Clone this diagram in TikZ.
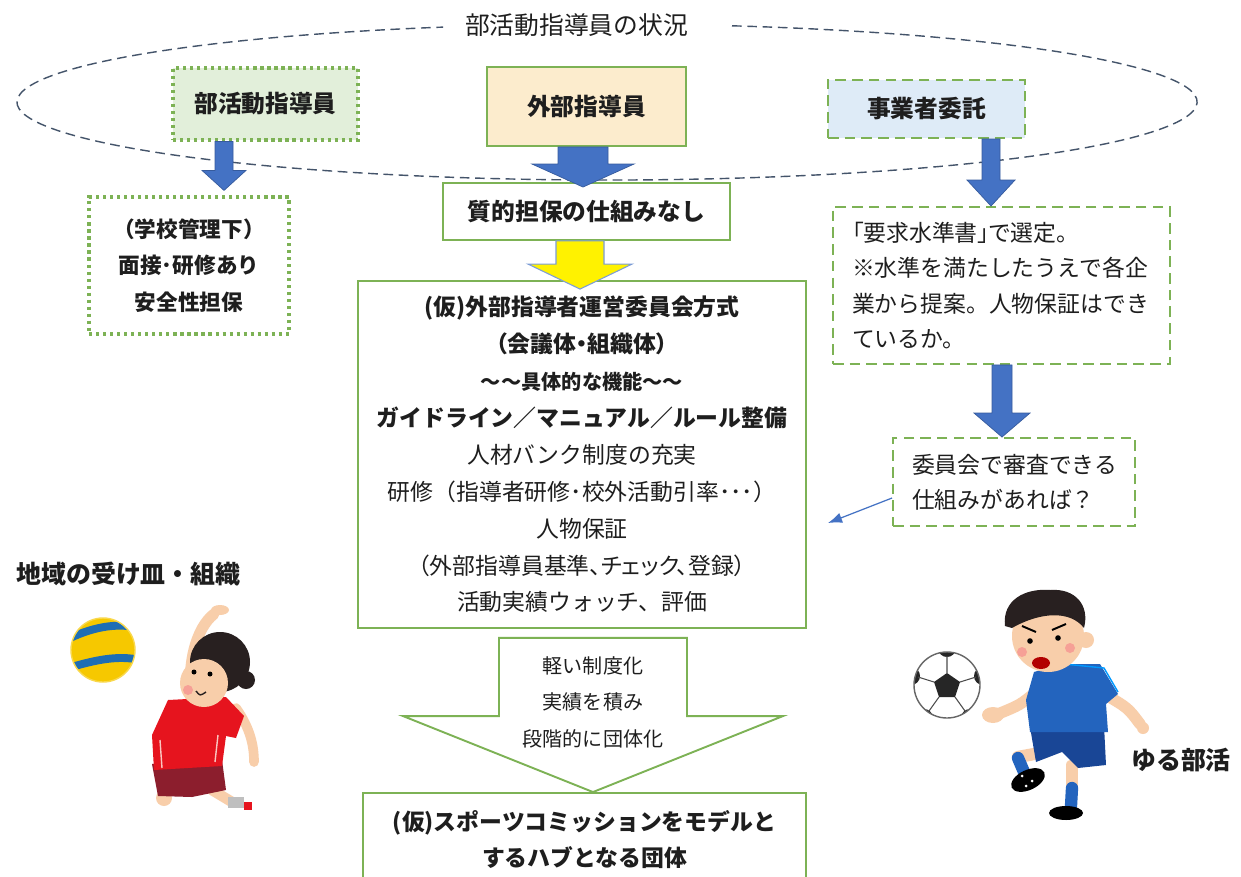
\documentclass[tikz,border=0pt]{standalone}
\usepackage{fontspec}
\setmainfont{Noto Sans CJK JP}
\newfontfamily\propjp[RawFeature=+palt]{Noto Sans CJK JP}
\usetikzlibrary{calc,arrows.meta}

\definecolor{boxgreen}{RGB}{125,178,85}
\definecolor{lightgreen}{RGB}{226,239,218}
\definecolor{beige}{RGB}{252,236,205}
\definecolor{lightblue}{RGB}{222,235,247}
\definecolor{arrowblue}{RGB}{68,114,196}
\definecolor{ringgray}{RGB}{68,84,106}
\definecolor{ink}{RGB}{30,30,30}
\definecolor{skin}{RGB}{248,206,170}
\definecolor{cheek}{RGB}{246,160,150}
\definecolor{hair}{RGB}{40,32,32}
\definecolor{shirtred}{RGB}{230,20,30}
\definecolor{shortsred}{RGB}{140,30,45}
\definecolor{ballyellow}{RGB}{246,200,0}
\definecolor{ballblue}{RGB}{30,110,180}
\definecolor{shirtblue}{RGB}{35,100,190}
\definecolor{shortsblue}{RGB}{25,70,150}

% one pixel of the layout grid
\newlength\pxu
\setlength\pxu{0.02cm}

\newcommand\boxtitlefont{\fontsize{13.5}{16}\selectfont\bfseries}

% block arrow: [style]{tail}{tip}{shaft half width}{head half width}{head length}
\newcommand\fatarrow[6][bluearrow]{%
  \filldraw[#1] let \p1=#2, \p2=#3 in
    (\x1-#4*\pxu,\y1) -- (\x1+#4*\pxu,\y1) -- (\x1+#4*\pxu,\y2+#6*\pxu)
    -- (\x1+#5*\pxu,\y2+#6*\pxu) -- (\x1,\y2)
    -- (\x1-#5*\pxu,\y2+#6*\pxu) -- (\x1-#4*\pxu,\y2+#6*\pxu) -- cycle;}

\tikzset{
  every node/.style={text=ink},
  solidbox/.style={draw=boxgreen, line width=1.1pt, fill=white, inner sep=0pt},
  dotbox/.style={solidbox, line width=1.8pt, dash pattern=on 1.8pt off 2.2pt},
  dashbox/.style={solidbox, dash pattern=on 6pt off 3.5pt},
  ring/.style={draw=ringgray, line width=0.8pt, dash pattern=on 5.5pt off 3.2pt},
  bluearrow/.style={fill=arrowblue, draw=arrowblue!80!black, line width=0.4pt},
  yellowarrow/.style={fill=yellow, draw=arrowblue!70, line width=0.6pt},
  hollowarrow/.style={fill=white, draw=boxgreen, line width=1.1pt},
  thinarrow/.style={draw=arrowblue, line width=0.7pt, -{Latex[length=8pt,width=6pt]}},
  limb/.style={line cap=round, line width=#1},
}

\begin{document}
\begin{tikzpicture}[x=0.02cm, y=-0.02cm]
    \useasboundingbox (0,0) rectangle (1241,876);
    \clip (0,0) rectangle (1241,876);
    \fill[white] (0,0) rectangle (1241,876);

    % Outer ring with its caption
    \draw[ring] (732,25.8) arc[start angle=282.23, end angle=613.86, x radius=590, y radius=78];
    \node[font=\fontsize{14.1}{16}\selectfont] (title) at (576.5,25) {部活動指導員の状況};

    % Top row
    \node[dotbox, fill=lightgreen, minimum width=3.70cm, minimum height=1.44cm, font=\boxtitlefont] (bukatsu) at (265.5,104) {部活動指導員};
    \node[solidbox, fill=beige, minimum width=3.98cm, minimum height=1.58cm, font=\boxtitlefont] (gaibu) at (586.5,106.5) {外部指導員};
    \node[dashbox, fill=lightblue, minimum width=3.94cm, minimum height=1.16cm, font=\boxtitlefont] (jigyo) at (926.5,109) {事業者委託};

    % Second row
    \node[dotbox, minimum width=4.0cm, minimum height=2.74cm, align=center,
          font=\fontsize{12.3}{20.8}\selectfont\bfseries] (gakko) at (189,265.5)
          {（学校管理下）\\面接･研修あり\\安全性担保};
    \node[solidbox, minimum width=5.74cm, minimum height=1.14cm, font=\boxtitlefont] (shitsu) at (586.5,211.5) {質的担保の仕組みなし};
    \node[dashbox, minimum width=6.74cm, minimum height=3.14cm, inner xsep=0.38cm, text width=5.98cm, align=left,
          font=\fontsize{13}{20}\selectfont] (yokyu) at (1001.5,285.5)
          {{\propjp 「要求水準書」で選定。}\\※水準を満たしたうえで各企\\業から提案。人物保証はでき\\ているか。};

    % Committee
    \node[solidbox, minimum width=8.96cm, minimum height=6.94cm, align=center,
          font=\fontsize{13}{21}\selectfont] (iinkai) at (582,454.5)
          {{\bfseries (仮)外部指導者運営委員会方式}\\
           {\propjp\bfseries （会議体・組織体）}\\
           {\fontsize{11.5}{21}\selectfont\bfseries ～～具体的な機能～～}\\
           {\bfseries ガイドライン／マニュアル／ルール整備}\\
           人材バンク制度の充実\\
           研修（指導者研修･校外活動引率･･･）\\
           人物保証\\
           {\propjp （外部指導員基準、チェック、登録）}\\
           活動実績ウォッチ、評価};
    \node[dashbox, minimum width=4.84cm, minimum height=1.76cm, inner xsep=0.38cm, text width=4.08cm, align=left,
          font=\fontsize{13}{20}\selectfont] (shinsa) at (1014,482)
          {委員会で審査できる\\仕組みがあれば？};

    % Hub at the bottom
    \node[solidbox, minimum width=8.86cm, minimum height=1.88cm, align=center,
          font=\fontsize{13}{20.5}\selectfont\bfseries] (hub) at (584.5,840)
          {(仮)スポーツコミッションをモデルと\\するハブとなる団体};

    % Block arrows
    \fatarrow{(224,0 |- bukatsu.south)}{($(224,0 |- gakko.north)+(0,-5)$)}{9}{22}{20}
    \fatarrow{(583,0 |- gaibu.south)}{($(583,0 |- shitsu.north)+(0,5)$)}{25}{51}{23}
    \fatarrow{(991,0 |- jigyo.south)}{(991,0 |- yokyu.north)}{9}{24}{26}
    \fatarrow[yellowarrow]{(580,0 |- shitsu.south)}{($(580,0 |- iinkai.north)+(0,9)$)}{24}{52}{25}
    \fatarrow{(1002,0 |- yokyu.south)}{(1002,0 |- shinsa.north)}{10}{28}{24}
    \fatarrow[hollowarrow]{($(iinkai.south)+(11,9)$)}{($(hub.north)+(8.5,0)$)}{94}{190}{76}
    \node[font=\fontsize{11.4}{20.8}\selectfont, align=center] (steps) at (593,702) {軽い制度化\\実績を積み\\段階的に団体化};

    % Pointer back to the committee
    \coordinate (ptr) at (828,523);
    \draw[thinarrow] ($(shinsa.west)+(0,16)$) -- (ptr);

    % Side captions
    \node[font=\fontsize{14.2}{16}\selectfont\bfseries, anchor=west] (chiiki) at (10,574) {地域の受け皿・組織};
    \node[font=\fontsize{14.2}{16}\selectfont\bfseries] (yuru) at (1181,760) {ゆる部活};

    % Volleyball player
    \begin{scope}
        \clip (103,650) circle[radius=32];
        \fill[ballyellow] (103,650) circle[radius=32];
        \draw[ballblue, line width=4.5pt] (66,640) .. controls (90,628) and (115,622) .. (140,628);
        \draw[ballblue, line width=4.5pt] (68,668) .. controls (95,660) and (118,655) .. (140,660);
        \draw[ballblue, line width=3pt] (75,690) .. controls (100,684) and (120,682) .. (135,686);
    \end{scope}
    \draw[ballyellow!70!white, line width=0.8pt] (103,650) circle[radius=32];

    \draw[skin, limb=6.3pt] (192,705) .. controls (186,665) and (196,628) .. (214,614);
    \fill[skin] (220,610) ellipse[x radius=9, y radius=5];
    \draw[skin, limb=5.5pt] (236,708) .. controls (250,728) and (254,745) .. (254,762);
    \draw[skin, limb=6pt] (212,790) -- (232,802);
    \fill[gray!50] (228,797) rectangle (244,808);
    \fill[shirtred] (244,802) rectangle (252,810);
    \fill[skin] (164,798) circle[radius=8];
    \fill[shortsred] (152,764) -- (222,760) -- (226,790) -- (192,797) -- (158,796) -- cycle;
    \fill[shirtred] (168,700) -- (226,697) -- (244,716) -- (236,738) -- (226,736) -- (222,766) -- (154,770) -- (152,735) -- cycle;
    \draw[cheek!60!white, line width=0.8pt] (160,740) -- (162,768) (218,735) -- (215,762);
    \fill[hair] (220,662) circle[radius=30];
    \fill[hair] (246,680) circle[radius=9];
    \fill[skin] (204,683) circle[radius=24];
    \fill[cheek] (188,690) circle[radius=5];
    \fill[black] (194,672) circle[radius=2.5] (210,674) circle[radius=2.5];
    \draw[hair, line width=0.8pt] (196,691) .. controls (200,696) .. (206,692);

    % Football player
    \begin{scope}
        \clip (947,685) circle[radius=33];
        \fill[white] (947,685) circle[radius=33];
        \fill[black!85] (947,673) -- (960,682) -- (955,697) -- (939,697) -- (934,682) -- cycle;
        \fill[black!85] (947,648) circle[radius=9] (983,676) circle[radius=9] (970,718) circle[radius=9]
                        (924,718) circle[radius=9] (911,676) circle[radius=9];
        \draw[black!70, line width=0.6pt] (947,673) -- (947,656) (960,682) -- (976,677) (955,697) -- (965,711)
                        (939,697) -- (929,711) (934,682) -- (918,677);
    \end{scope}
    \draw[black!60, line width=0.8pt] (947,685) circle[radius=33];

    \draw[skin, limb=6.5pt] (1072,765) -- (1072,790);
    \draw[shirtblue, limb=7pt] (1072,788) -- (1071,806);
    \fill[black] (1066,813) ellipse[x radius=17, y radius=7];
    \draw[skin, limb=7pt] (1045,752) -- (1018,757);
    \draw[shirtblue, limb=7pt] (1018,758) -- (1024,772);
    \fill[black, rotate around={25:(1028,780)}] (1028,780) ellipse[x radius=18, y radius=10];
    \fill[white] (1022,776) circle[radius=1.5] (1032,781) circle[radius=1.5] (1026,786) circle[radius=1.5];
    \fill[shortsblue] (1030,727) -- (1104,725) -- (1106,765) -- (1078,768) -- (1062,752) -- (1036,762) -- cycle;
    \draw[skin, limb=6.5pt] (1036,692) .. controls (1020,705) .. (998,714);
    \fill[skin] (993,715) ellipse[x radius=11, y radius=8];
    \draw[skin, limb=6.5pt] (1106,695) .. controls (1128,708) .. (1140,724);
    \fill[skin] (1143,728) circle[radius=6];
    \fill[shirtblue] (1034,672) -- (1062,664) -- (1100,664) -- (1118,694) -- (1106,704) -- (1108,732) -- (1030,732) -- (1026,700) -- cycle;
    \draw[blue!40!cyan, line width=0.8pt] (1064,664) -- (1104,668) -- (1118,692);
    \fill[skin] (1086,640) circle[radius=8];
    \fill[skin] (1048,636) circle[radius=36];
    \fill[hair] (1005,626) .. controls (1002,600) and (1025,588) .. (1050,590)
                .. controls (1075,588) and (1090,605) .. (1084,628)
                .. controls (1070,610) and (1040,612) .. (1012,628) -- cycle;
    \fill[cheek] (1022,652) circle[radius=5] (1070,648) circle[radius=5];
    \fill[black] (1030,641) circle[radius=2.8] (1058,638) circle[radius=2.8];
    \draw[black, line width=1.1pt] (1022,626) -- (1036,632) (1066,624) -- (1052,630);
    \fill[red!70!black] (1041,663) ellipse[x radius=9, y radius=6];
\end{tikzpicture}
\end{document}
